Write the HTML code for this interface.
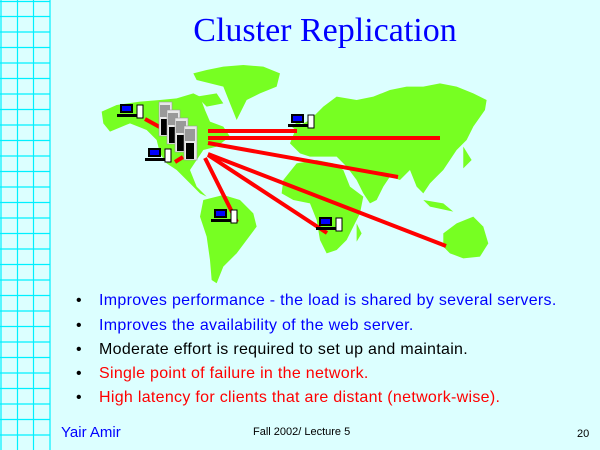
<!DOCTYPE html>
<html><head><meta charset="utf-8"><style>
body{margin:0;width:600px;height:450px;background:#dcffff;position:relative;overflow:hidden;font-family:"Liberation Sans",sans-serif}
.t{position:absolute;white-space:nowrap}
.b{position:absolute;left:76px;font-size:16px}
.l{position:absolute;left:99px;font-size:16px;letter-spacing:0.3px;white-space:nowrap}
</style></head><body>
<svg width="600" height="450" style="position:absolute;left:0;top:0">
<g stroke="#00f0ff" stroke-width="1.2">
<line x1="1" y1="0" x2="1" y2="450"/><line x1="17.5" y1="0" x2="17.5" y2="450"/><line x1="33.5" y1="0" x2="33.5" y2="450"/><line x1="50" y1="0" x2="50" y2="450"/>
<line x1="0" y1="1.5" x2="50" y2="1.5"/><line x1="0" y1="16.5" x2="50" y2="16.5"/><line x1="0" y1="32" x2="50" y2="32"/><line x1="0" y1="47.5" x2="50" y2="47.5"/><line x1="0" y1="63" x2="50" y2="63"/><line x1="0" y1="78.5" x2="50" y2="78.5"/><line x1="0" y1="94" x2="50" y2="94"/><line x1="0" y1="109.5" x2="50" y2="109.5"/><line x1="0" y1="125" x2="50" y2="125"/><line x1="0" y1="140.5" x2="50" y2="140.5"/><line x1="0" y1="156" x2="50" y2="156"/><line x1="0" y1="171.5" x2="50" y2="171.5"/><line x1="0" y1="187" x2="50" y2="187"/><line x1="0" y1="202.5" x2="50" y2="202.5"/><line x1="0" y1="218" x2="50" y2="218"/><line x1="0" y1="233.5" x2="50" y2="233.5"/><line x1="0" y1="249" x2="50" y2="249"/><line x1="0" y1="264.5" x2="50" y2="264.5"/><line x1="0" y1="280" x2="50" y2="280"/><line x1="0" y1="295.5" x2="50" y2="295.5"/><line x1="0" y1="311" x2="50" y2="311"/><line x1="0" y1="326.5" x2="50" y2="326.5"/><line x1="0" y1="342" x2="50" y2="342"/><line x1="0" y1="357.5" x2="50" y2="357.5"/><line x1="0" y1="373" x2="50" y2="373"/><line x1="0" y1="388.5" x2="50" y2="388.5"/><line x1="0" y1="404" x2="50" y2="404"/><line x1="0" y1="419.5" x2="50" y2="419.5"/><line x1="0" y1="435" x2="50" y2="435"/>
</g>
<g transform="translate(90,60) scale(0.3333)" fill="#77ff22">
<path d="M35,155 80,135 150,125 210,120 260,115 310,100 330,110 345,150 360,185 400,200 420,230 380,260 340,270 320,300 300,330 320,380 350,410 330,400 290,360 260,330 230,310 210,280 200,240 170,210 120,190 60,215 40,190Z"/>
<path d="M310,40 350,30 400,20 460,15 520,20 570,40 560,80 510,100 470,120 440,180 420,130 400,80 320,60Z"/>
<path d="M320,110 380,100 400,130 350,140Z"/>
<path d="M340,420 400,405 450,420 490,460 500,500 470,540 440,580 400,620 380,670 365,660 360,600 350,530 330,470Z"/>
<path d="M600,250 620,200 660,180 700,140 740,110 800,120 850,110 900,90 950,80 1000,80 1050,70 1100,80 1150,100 1190,120 1185,150 1150,200 1130,240 1100,270 1080,300 1060,330 1040,350 1020,370 1000,400 980,380 960,330 930,360 900,350 880,380 860,420 840,430 820,400 800,360 770,320 740,290 700,290 660,290 630,280Z"/>
<path d="M580,360 620,310 680,300 730,310 760,330 780,380 820,410 810,460 790,500 770,540 740,570 710,580 690,540 680,480 660,430 610,420 575,400Z"/>
<path d="M1060,520 1100,490 1150,470 1180,500 1195,550 1170,590 1120,595 1080,580 1060,560Z"/>
<path d="M800,490 815,520 800,545Z"/><path d="M1120,260 1145,300 1120,325Z"/><path d="M1000,420 1060,430 1090,455 1020,440Z"/><path d="M605,200 630,180 635,225Z"/>
</g>
<g stroke="#ff0000" stroke-width="4">
<line x1="145" y1="119" x2="167" y2="131"/><line x1="175" y1="162" x2="183" y2="157"/>
<line x1="208" y1="131" x2="297" y2="131"/><line x1="208" y1="138" x2="440" y2="138"/>
<line x1="208" y1="143" x2="398" y2="177"/><line x1="208" y1="154" x2="446" y2="246"/>
<line x1="208" y1="155" x2="327" y2="233"/><line x1="205" y1="158" x2="237" y2="222"/>
</g>
<defs><g id="pc"><rect x="3" y="0" width="13" height="9" fill="#000"/><rect x="5" y="2" width="9" height="5" fill="#00f"/><rect x="0" y="10" width="20" height="3" fill="#000"/><rect x="20" y="1" width="6" height="13" fill="#fff" stroke="#000" stroke-width="1"/></g>
<g id="sv"><rect x="0" y="0" width="13" height="34" fill="#e8e8e8" stroke="#999" stroke-width="0.6"/><rect x="1" y="3" width="10" height="12" fill="#999"/><rect x="2" y="17" width="8" height="16" fill="#000"/></g></defs>
<use href="#pc" x="117" y="104"/><use href="#pc" x="145" y="148"/><use href="#pc" x="288" y="114"/><use href="#pc" x="211" y="209"/><use href="#pc" x="316" y="217"/>
<use href="#sv" x="159" y="102"/><use href="#sv" x="167" y="110"/><use href="#sv" x="175" y="118"/><use href="#sv" x="184" y="126"/>
</svg>
<div class="t" style="left:0;width:650px;text-align:center;top:12px;font-family:'Liberation Serif',serif;font-size:34px;color:#0000ff">Cluster Replication</div>
<div class="b" style="top:292px">•</div><div class="l" style="top:292px;color:#0000ff">Improves performance - the load is shared by several servers.</div>
<div class="b" style="top:317px">•</div><div class="l" style="top:317px;color:#0000ff">Improves the availability of the web server.</div>
<div class="b" style="top:341px">•</div><div class="l" style="top:341px;color:#000">Moderate effort is required to set up and maintain.</div>
<div class="b" style="top:365px">•</div><div class="l" style="top:365px;color:#ff0000">Single point of failure in the network.</div>
<div class="b" style="top:389px">•</div><div class="l" style="top:389px;color:#ff0000">High latency for clients that are distant (network-wise).</div>
<div class="t" style="left:61px;top:424px;font-size:15px;color:#0000ff">Yair Amir</div>
<div class="t" style="left:253px;top:426px;font-size:11px;color:#000">Fall 2002/ Lecture 5</div>
<div class="t" style="left:577px;top:428px;font-size:11px;color:#000">20</div>
</body></html>
